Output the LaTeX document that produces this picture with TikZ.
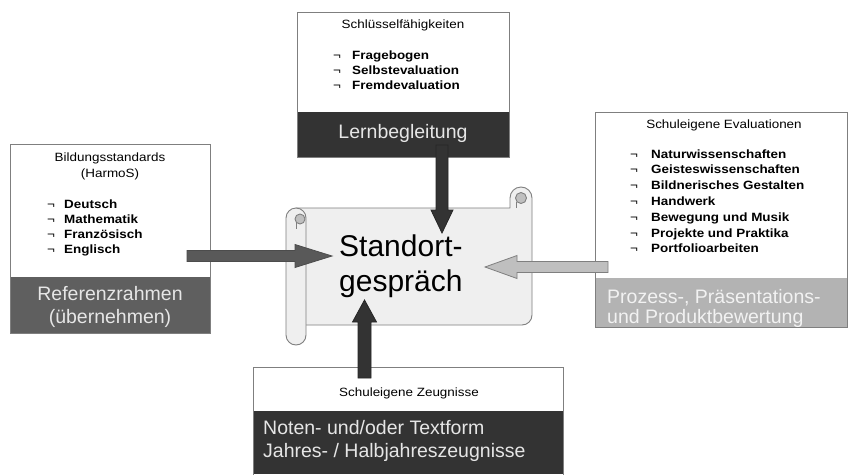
\documentclass[tikz,border=0pt]{standalone}
\usepackage{fontspec}
\setmainfont{Liberation Sans}
\newfontfamily\wfont[FakeStretch=1.12]{Liberation Sans}
\usetikzlibrary{calc}
\definecolor{edge}{HTML}{7F7F7F}
\definecolor{darkband}{HTML}{333333}
\definecolor{midband}{HTML}{5F5F5F}
\definecolor{lightband}{HTML}{B3B3B3}
\definecolor{bandtxt}{HTML}{E6E6E6}
\definecolor{lighttxt}{HTML}{F2F2F2}
\definecolor{paper}{HTML}{EFEFEF}
\definecolor{curl}{HTML}{BFBFBF}
\definecolor{darkarrow}{HTML}{333333}
\definecolor{midarrow}{HTML}{595959}
\definecolor{lightarrow}{HTML}{BFBFBF}
\begin{document}
\begin{tikzpicture}[x=1pt,y=-1pt,
  hd/.style={anchor=base,inner sep=0pt,font=\wfont\fontsize{12}{14}\selectfont},
  itm/.style={anchor=base west,inner sep=0pt,font=\wfont\fontsize{12}{14}\selectfont\bfseries},
  bul/.style={anchor=base west,inner sep=0pt,font=\wfont\fontsize{12}{14}\selectfont},
  band/.style={inner sep=0pt,font=\fontsize{19.5}{23}\selectfont,text=bandtxt},
  frame/.style={draw=edge,line width=0.9pt},
  blockarrow/.style={line width=0.8pt,line join=miter}]
\useasboundingbox (0,0) rectangle (848,474);
\fill[white] (0,0) rectangle (848,474);

% ---- top box ----
\fill[white] (297,12) rectangle (509,157);
\fill[darkband] (297,112) rectangle (509,157);
\draw[frame] (297,12) rectangle (509,157);
\node[hd] (th) at (403,28) {Schlüsselfähigkeiten};
\node[bul] (tb1) at (333,59) {¬};
\node[bul] (tb2) at (333,74) {¬};
\node[bul] (tb3) at (333,89) {¬};
\node[itm] (ti1) at (352,59) {Fragebogen};
\node[itm] (ti2) at (352,74) {Selbstevaluation};
\node[itm] (ti3) at (352,89) {Fremdevaluation};
\node[band,anchor=base] (tband) at (403,138) {Lernbegleitung};

% ---- left box ----
\fill[white] (10,144) rectangle (210,333);
\fill[midband] (10,277) rectangle (210,333);
\draw[frame] (10,144) rectangle (210,333);
\node[hd] (lh1) at (110,161) {Bildungsstandards};
\node[hd] (lh2) at (110,177) {(HarmoS)};
\node[bul] (lb1) at (47,208) {¬};
\node[bul] (lb2) at (47,223) {¬};
\node[bul] (lb3) at (47,238) {¬};
\node[bul] (lb4) at (47,253) {¬};
\node[itm] (li1) at (64,208) {Deutsch};
\node[itm] (li2) at (64,223) {Mathematik};
\node[itm] (li3) at (64,238) {Französisch};
\node[itm] (li4) at (64,253) {Englisch};
\node[band,anchor=base] (lband1) at (110,300) {Referenzrahmen};
\node[band,anchor=base] (lband2) at (110,323) {(übernehmen)};

% ---- right box ----
\fill[white] (595,112) rectangle (847.5,327);
\fill[lightband] (595,278) rectangle (847.5,327);
\draw[frame] (595,112) rectangle (847.5,327);
\node[hd] (rh) at (724,128) {Schuleigene Evaluationen};
\foreach \i/\t [evaluate=\i as \yy using 158+15.8*(\i-1)] in
  {1/Naturwissenschaften,2/Geisteswissenschaften,3/Bildnerisches Gestalten,4/Handwerk,5/Bewegung und Musik,6/Projekte und Praktika,7/Portfolioarbeiten}{
  \node[bul] (rb\i) at (630,\yy) {¬};
  \node[itm] (ri\i) at (651,\yy) {\t};
}
\node[band,anchor=base west,text=lighttxt] (rband1) at (607,303) {Prozess-, Präsentations-};
\node[band,anchor=base west,text=lighttxt] (rband2) at (607,323) {und Produktbewertung};

% ---- bottom box ----
\fill[white] (253,367) rectangle (563,474);
\fill[darkband] (253,411) rectangle (563,474);
\draw[frame] (253,367) -- (253,474.5) (563,474.5) -- (563,367) -- (253,367);
\node[hd] (bh) at (409,396) {Schuleigene Zeugnisse};
\node[band,anchor=base west] (bband1) at (263,434) {Noten- und/oder Textform};
\node[band,anchor=base west] (bband2) at (263,457) {Jahres- / Halbjahreszeugnisse};

% ---- scroll ----
\draw[frame,fill=paper,line join=round]
  (296,208) -- (510,208)
  [rounded corners=11] -- (510,187) -- (532,187)
  [rounded corners=10] -- (532,325)
  [sharp corners] -- (296,325) -- cycle;
\draw[frame] (516,208) -- (516,202);
\draw[frame,fill=curl] (521,198) circle (5.5);
\draw[frame,fill=paper,rounded corners=10] (286,208) rectangle (306,345);
\draw[frame] (296,218) -- (296,229);
\draw[frame,fill=curl] (300,219) circle (5);

\node[anchor=base west,inner sep=0pt,font=\fontsize{30}{35}\selectfont] (c1) at (339,256) {Standort-};
\node[anchor=base west,inner sep=0pt,font=\fontsize{30}{35}\selectfont] (c2) at (339,291) {gespräch};

% ---- arrows ----
\coordinate (ta1) at (442,145);  \coordinate (ta2) at (442,233);
\coordinate (ba1) at (364.5,378); \coordinate (ba2) at (364.5,300);
\coordinate (la1) at (187,256);  \coordinate (la2) at (332,256);
\coordinate (ra1) at (608,267);  \coordinate (ra2) at (485,267);

\draw[blockarrow,fill=darkarrow,draw=black!85]
  ($(ta1)+(-6,0)$) -- ($(ta2)+(-6,-23)$) -- ($(ta2)+(-11,-23)$) -- (ta2)
  -- ($(ta2)+(11,-23)$) -- ($(ta2)+(6,-23)$) -- ($(ta1)+(6,0)$) -- cycle;
\draw[blockarrow,fill=darkarrow,draw=black!85]
  ($(ba1)+(-6.5,0)$) -- ($(ba2)+(-6.5,22)$) -- ($(ba2)+(-12,22)$) -- (ba2)
  -- ($(ba2)+(12,22)$) -- ($(ba2)+(6.5,22)$) -- ($(ba1)+(6.5,0)$) -- cycle;
\draw[blockarrow,fill=midarrow,draw=black!70]
  ($(la1)+(0,-5.5)$) -- ($(la2)+(-37,-5.5)$) -- ($(la2)+(-37,-11.5)$) -- (la2)
  -- ($(la2)+(-37,11.5)$) -- ($(la2)+(-37,5.5)$) -- ($(la1)+(0,5.5)$) -- cycle;
\draw[blockarrow,fill=lightarrow,draw=edge]
  ($(ra1)+(0,-5.5)$) -- ($(ra2)+(32,-5.5)$) -- ($(ra2)+(32,-11.5)$) -- (ra2)
  -- ($(ra2)+(32,11.5)$) -- ($(ra2)+(32,5.5)$) -- ($(ra1)+(0,5.5)$) -- cycle;
\end{tikzpicture}
\end{document}
